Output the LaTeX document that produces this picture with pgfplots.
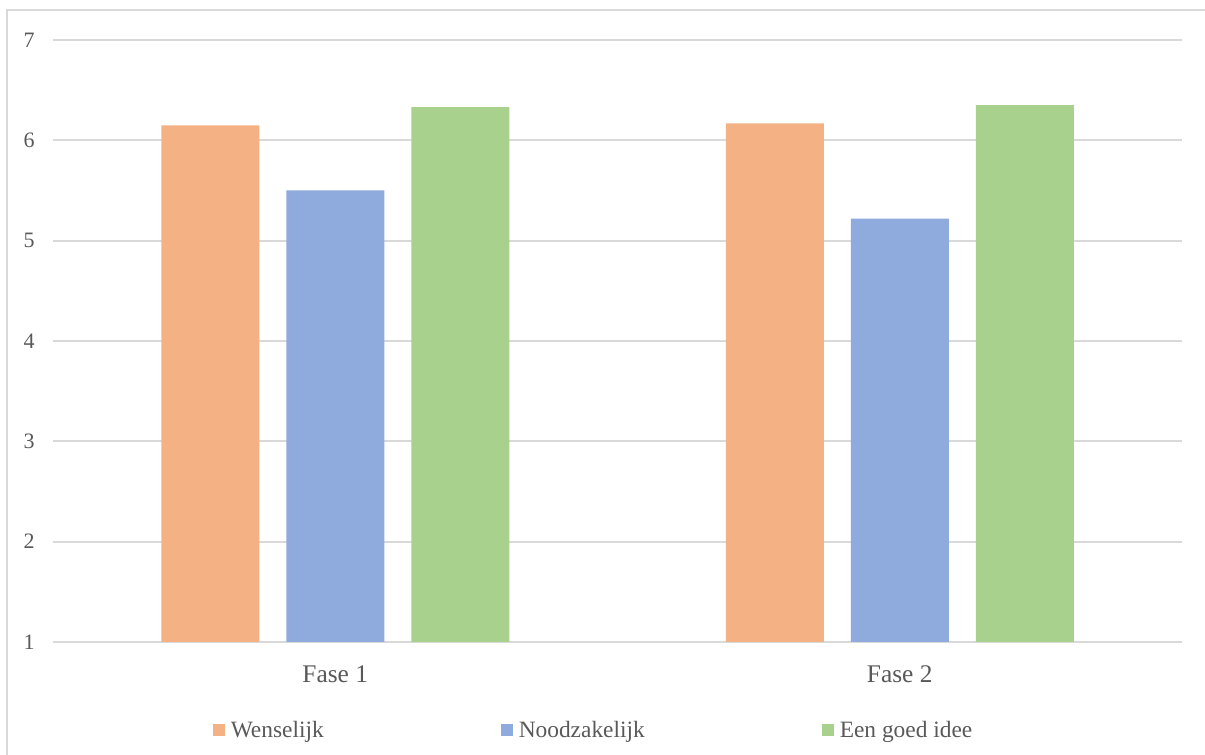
\documentclass[border=0pt]{standalone}
\usepackage{fontspec}
\setmainfont{Liberation Serif}
\usepackage{pgfplots}
\pgfplotsset{compat=1.18}
\definecolor{cOrange}{HTML}{F4B183}
\definecolor{cBlue}{HTML}{8FAADC}
\definecolor{cGreen}{HTML}{A9D18E}
\definecolor{cGrid}{HTML}{D9D9D9}
\definecolor{cText}{HTML}{595959}
\begin{document}
\begin{tikzpicture}
\path[use as bounding box] (0,0) rectangle (602.5pt,377.5pt);
\draw[cGrid, line width=1pt] (3.5pt,-5pt) -- (3.5pt,372.5pt) -- (610pt,372.5pt);
\begin{axis}[
  at={(26.5pt,56.5pt)}, anchor=south west,
  scale only axis, width=564.5pt, height=301pt,
  xmin=-0.5, xmax=1.5, ymin=1, ymax=7,
  ybar, bar width=49pt,
  xtick={0,1}, xticklabels={Fase 1, Fase 2},
  ytick={1,2,3,4,5,6,7},
  axis line style={draw=none},
  major tick length=0pt,
  ymajorgrids, grid style={cGrid, line width=1pt},
  /pgf/number format/assume math mode=true,
  yticklabel style={inner sep=0pt, font=\fontsize{11}{12}\selectfont, text=cText},
  xticklabel style={inner sep=0pt, font=\fontsize{12.7}{14}\selectfont, text=cText, anchor=north},
  y tick label style={xshift=-9pt},
  x tick label style={yshift=-11.5pt},
  legend columns=3,
  legend cell align=left,
  legend style={draw=none, fill=none, at={(0.4779,0)}, anchor=center, yshift=-44.5pt,
    font=\fontsize{11.7}{13}\selectfont, text=cText,
    nodes={inner sep=0pt},
    /tikz/every odd column/.append style={column sep=3pt},
    /tikz/every even column/.append style={column sep=88.5pt}},
  legend image code/.code={\fill[#1, draw=none] (0pt,-2.5pt) rectangle (6pt,3.5pt);},
  clip=true,
]
\addplot[fill=cOrange, draw=none, bar shift=-62.5pt] coordinates {(0,6.15) (1,6.17)};
\addplot[fill=cBlue, draw=none, bar shift=0pt] coordinates {(0,5.50) (1,5.22)};
\addplot[fill=cGreen, draw=none, bar shift=62.5pt] coordinates {(0,6.33) (1,6.35)};
\legend{Wenselijk, Noodzakelijk, Een goed idee}
\end{axis}
\end{tikzpicture}
\end{document}
